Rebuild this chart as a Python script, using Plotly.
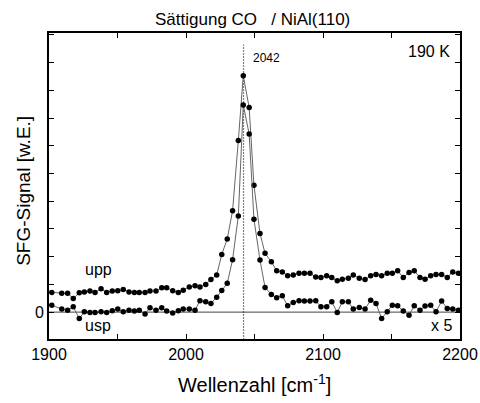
import plotly.graph_objects as go

# Wavenumbers (cm^-1) shared by both series
wavenumber = [1902.0, 1909.3, 1913.6, 1917.7, 1922.1, 1925.8, 1929.9, 1933.6, 1938.0, 1942.1,
              1946.2, 1950.2, 1954.2, 1958.4, 1962.3, 1965.9, 1970.1, 1973.7, 1978.1, 1982.3,
              1985.9, 1990.3, 1994.4, 1998.0, 2002.4, 2006.6, 2010.2, 2014.4, 2018.2, 2022.4,
              2026.1, 2030.1, 2034.0, 2038.2, 2041.8, 2046.1, 2049.6, 2054.0, 2057.7, 2062.3,
              2066.2, 2070.3, 2074.2, 2078.3, 2082.5, 2086.4, 2090.5, 2094.7, 2098.5, 2102.7,
              2106.4, 2110.4, 2114.1, 2118.5, 2122.1, 2126.5, 2130.7, 2134.8, 2138.7, 2142.8,
              2146.9, 2150.6, 2154.5, 2158.6, 2162.8, 2166.6, 2170.8, 2174.5, 2178.6, 2182.5,
              2186.6, 2190.7, 2194.7, 2198.8]

upp = [0.71, 0.68, 0.68, 0.49, 0.70, 0.73, 0.76, 0.71, 0.84, 0.71,
       0.76, 0.77, 0.82, 0.73, 0.71, 0.71, 0.71, 0.76, 0.76, 0.88,
       0.88, 0.77, 0.71, 0.79, 0.91, 0.95, 0.91, 1.00, 1.18, 1.34,
       2.08, 2.64, 3.66, 6.19, 8.53, 7.38, 4.58, 2.84, 2.12, 1.82,
       1.49, 1.45, 1.31, 1.34, 1.40, 1.40, 1.40, 1.27, 1.25, 1.31,
       1.25, 1.13, 1.19, 1.22, 1.34, 1.22, 1.18, 1.31, 1.36, 1.31,
       1.40, 1.40, 1.49, 1.25, 1.43, 1.49, 1.25, 1.19, 1.31, 1.36,
       1.36, 1.25, 1.45, 1.40]

usp_x5 = [0.25, 0.11, 0.07, 0.19, -0.23, 0.01, -0.01, -0.01, 0.01, -0.01,
          0.05, 0.11, 0.01, 0.07, 0.04, 0.07, -0.07, 0.16, 0.07, 0.16,
          0.04, -0.03, 0.05, 0.11, 0.11, 0.07, 0.41, 0.37, 0.31, 0.54,
          0.78, 1.04, 1.89, 3.47, 7.47, 6.43, 3.35, 1.88, 0.89, 0.64,
          0.52, 0.59, 0.23, 0.35, 0.41, 0.40, 0.40, 0.41, 0.19, 0.19,
          0.37, -0.01, 0.37, 0.37, 0.11, 0.17, 0.11, 0.43, 0.31, -0.23,
          0.01, 0.25, 0.23, 0.04, -0.11, 0.23, 0.07, 0.22, 0.25, 0.01,
          0.40, 0.13, 0.11, 0.07]

peak_position = 2042
x_ticks = [1900, 1950, 2000, 2050, 2100, 2150, 2200]
x_ticklabels = ["1900", "", "2000", "", "2100", "", "2200"]
y_ticks = list(range(-1, 11))
y_ticklabels = ["" if v != 0 else "0" for v in y_ticks]

FONT = "Liberation Sans, Arial, sans-serif"

fig = go.Figure()

# zero line
fig.add_trace(go.Scatter(x=[1900, 2200], y=[0, 0], mode="lines",
                         line=dict(color="#444444", width=1), hoverinfo="skip",
                         showlegend=False))
# peak marker line
fig.add_trace(go.Scatter(x=[peak_position, peak_position], y=[-1.2, 9.65], mode="lines",
                         line=dict(color="black", width=1.2, dash="1px,2px"), hoverinfo="skip",
                         showlegend=False))

for series in (upp, usp_x5):
    fig.add_trace(go.Scatter(x=wavenumber, y=series, mode="lines+markers",
                             line=dict(color="#666666", width=1),
                             marker=dict(color="black", size=5.5),
                             showlegend=False))

axis_common = dict(showgrid=False, zeroline=False, ticks="inside", ticklen=5,
                   tickwidth=1.2, tickcolor="black", showline=True, linecolor="black",
                   linewidth=1.8, mirror="ticks", automargin=False,
                   tickfont=dict(family=FONT, size=16, color="black"))

fig.update_xaxes(range=[1900, 2200], tickvals=x_ticks, ticktext=x_ticklabels, **axis_common)
fig.update_yaxes(range=[-0.97, 10.07], tickvals=y_ticks, ticktext=y_ticklabels, **axis_common)

annotations = [
    dict(text="Sättigung CO\u00a0\u00a0\u00a0/ NiAl(110)", x=0.494, y=1.044, size=17),
    dict(text="Wellenzahl [cm<sup>-1</sup>]", x=0.5, y=-0.144, size=20),
    dict(text="SFG-Signal [w.E.]", x=-0.061, y=0.484, size=19, angle=-90),
]
data_annotations = [
    dict(text="upp", x=1935.8, y=1.52, size=16),
    dict(text="usp", x=1935.8, y=-0.47, size=16),
    dict(text="x 5", x=2186.5, y=-0.49, size=16),
    dict(text="190 K", x=2177.7, y=9.40, size=16),
    dict(text="2042", x=2059.0, y=9.17, size=12),
]
for a in annotations:
    fig.add_annotation(text=a["text"], x=a["x"], y=a["y"], xref="paper", yref="paper",
                       showarrow=False, xanchor="center", yanchor="middle",
                       textangle=a.get("angle", 0),
                       font=dict(family=FONT, size=a["size"], color="black"))
for a in data_annotations:
    fig.add_annotation(text=a["text"], x=a["x"], y=a["y"], xref="x", yref="y",
                       showarrow=False, xanchor="center", yanchor="middle",
                       font=dict(family=FONT, size=a["size"], color="black"))

fig.update_layout(width=480, height=403, margin=dict(l=49, r=20, t=33, b=64),
                  plot_bgcolor="white", paper_bgcolor="white",
                  font=dict(family=FONT, color="black"))

fig.write_html("out.html")
